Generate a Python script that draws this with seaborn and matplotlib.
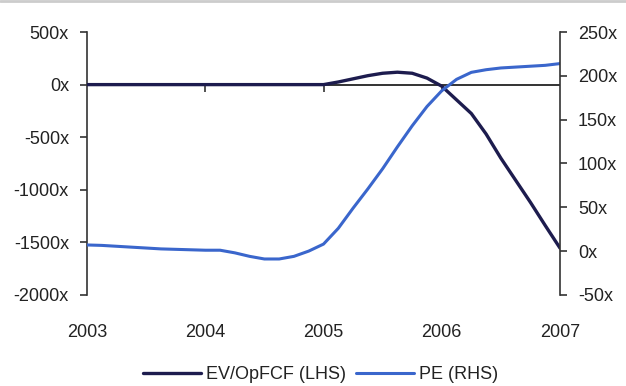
import matplotlib
matplotlib.use("Agg")
import matplotlib.pyplot as plt
from matplotlib.ticker import FuncFormatter
from matplotlib.lines import Line2D
import seaborn as sns
import pandas as pd

# Observations every eighth of a year, 2003 to 2007
periods = [2003 + k / 8 for k in range(33)]
ev_opfcf = [0, 0, 0, 0, 0, 0, 0, 0,
            0, 0, 0, 0, 0, 0, 0, 0,
            0, 25, 55, 85, 108, 118, 108, 62,
            -15, -145, -275, -470, -700, -910, -1120, -1340,
            -1555]
pe = [7, 6.5, 5.5, 4.5, 3.5, 2.5, 2, 1.5,
      1, 1, -2, -6, -9, -9, -6, 0,
      8, 26, 49, 71, 94, 119, 143, 165,
      183, 196, 204, 207, 209, 210, 211, 212,
      214]
year_labels = ["2003", "2004", "2005", "2006", "2007"]
year_ticks = [2003, 2004, 2005, 2006, 2007]
left_ticks = [500, 0, -500, -1000, -1500, -2000]
right_ticks = [250, 200, 150, 100, 50, 0, -50]

EV_COLOR = "#1d1c4e"
PE_COLOR = "#3a66cc"
TEXT_COLOR = "#222222"
AXIS_COLOR = "#333333"
FS = 13

df = pd.DataFrame({"period": periods, "ev": ev_opfcf, "pe": pe})

sns.set_theme(style="white")
plt.rcParams["font.family"] = ["Liberation Sans", "DejaVu Sans"]
plt.rcParams["font.size"] = FS

fig = plt.figure(figsize=(6.26, 3.86), dpi=100)
ax = fig.add_axes([0.139, 0.236, 0.7556, 0.681])
ax2 = ax.twinx()

fmt = FuncFormatter(lambda v, _: f"{v:.0f}x")

# Left axis: EV/OpFCF
ax.axhline(0, color=AXIS_COLOR, lw=1.4, zorder=1)
sns.lineplot(data=df, x="period", y="ev", ax=ax, color=EV_COLOR, lw=2.4,
             zorder=3, legend=False)
ax.set_xlim(2003, 2007)
ax.set_ylim(-2000, 500)
ax.set_yticks(left_ticks)
ax.yaxis.set_major_formatter(fmt)
ax.set_xlabel("")
ax.set_ylabel("")

# Right axis: PE
sns.lineplot(data=df, x="period", y="pe", ax=ax2, color=PE_COLOR, lw=2.2,
             zorder=2, legend=False)
ax2.set_ylim(-50, 250)
ax2.set_yticks(right_ticks)
ax2.yaxis.set_major_formatter(fmt)
ax2.set_ylabel("")

for a in (ax, ax2):
    a.spines["top"].set_visible(False)
    a.spines["bottom"].set_visible(False)
    a.grid(False)
ax.spines["right"].set_visible(False)
ax2.spines["left"].set_visible(False)
ax.spines["left"].set_color(AXIS_COLOR)
ax2.spines["right"].set_color(AXIS_COLOR)
ax.spines["left"].set_linewidth(1.2)
ax2.spines["right"].set_linewidth(1.2)

ax.tick_params(axis="y", direction="out", length=5, width=1.2, color=AXIS_COLOR,
               labelsize=FS, labelcolor=TEXT_COLOR, pad=8, left=True)
ax2.tick_params(axis="y", direction="out", length=5, width=1.2, color=AXIS_COLOR,
                labelsize=FS, labelcolor=TEXT_COLOR, pad=8, right=True)

# Year labels along the bottom edge
ax.set_xticks(year_ticks)
ax.set_xticklabels(year_labels)
ax.tick_params(axis="x", length=0, labelsize=FS, labelcolor=TEXT_COLOR, pad=21)

# Tick marks on the zero line
zero_frac = (0 - (-2000)) / 2500
sec = ax.secondary_xaxis(zero_frac)
sec.set_xticks(year_ticks[1:-1])
sec.tick_params(axis="x", direction="out", length=5, width=1.2, color=AXIS_COLOR,
                labelbottom=False, labeltop=False, bottom=True, top=False)
sec.spines["bottom"].set_visible(False)
sec.spines["top"].set_visible(False)

handles = [Line2D([], [], color=EV_COLOR, lw=2.4),
           Line2D([], [], color=PE_COLOR, lw=2.2)]
fig.legend(handles, ["EV/OpFCF (LHS)", "PE (RHS)"], loc="center",
           bbox_to_anchor=(0.512, 0.03), ncol=2, frameon=False,
           handlelength=3.2, handletextpad=0.25, columnspacing=0.6,
           fontsize=FS, labelcolor=TEXT_COLOR, borderpad=0.1)

# Thin rule across the top edge
fig.add_artist(Line2D([0, 1], [0.997, 0.997], transform=fig.transFigure,
                      color="#cccccc", lw=2))

fig.savefig("out.png", dpi=100)
